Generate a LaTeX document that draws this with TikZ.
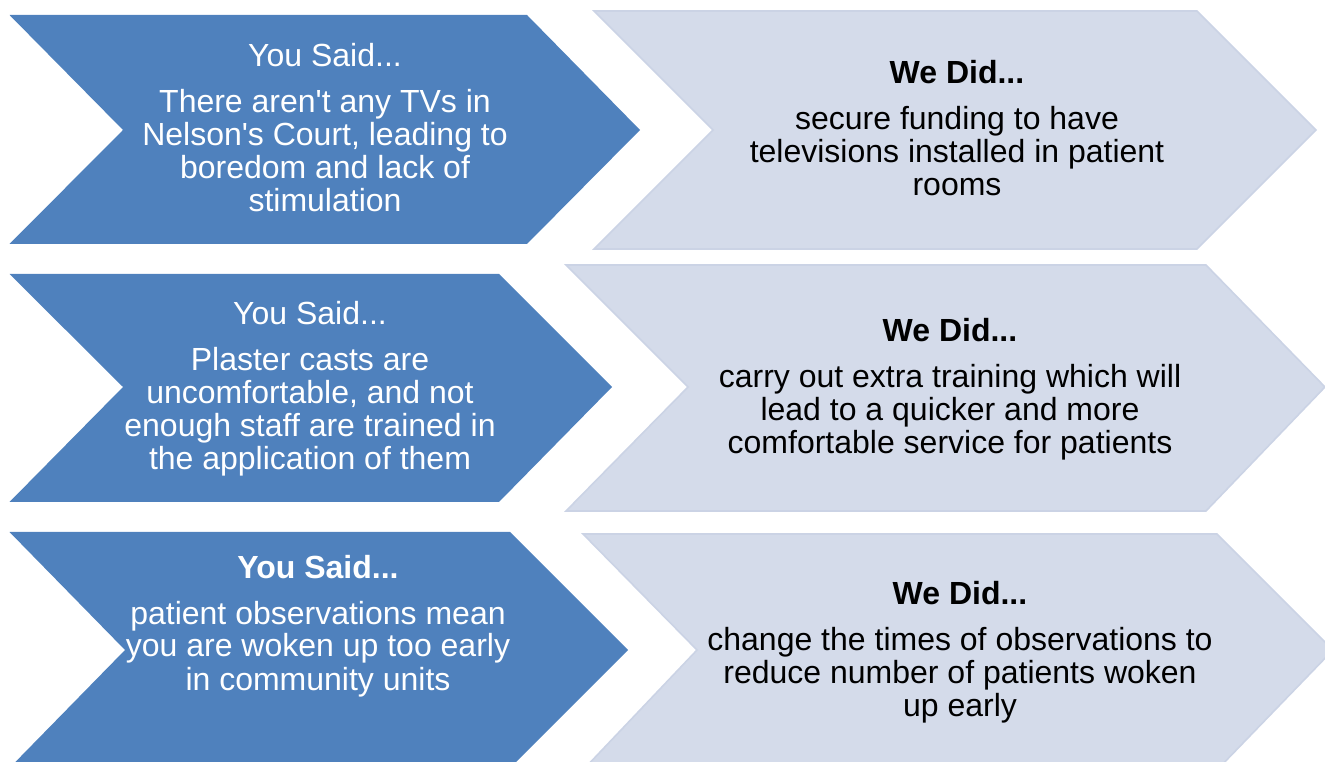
\documentclass[tikz,border=0pt]{standalone}
\usepackage{fontspec}
\setmainfont{Liberation Sans}[Ligatures=TeXOff]
\definecolor{saidblue}{HTML}{4F81BD}
\definecolor{didfill}{HTML}{D4DBEA}
\definecolor{didedge}{HTML}{CBD3E5}
\begin{document}
\begin{tikzpicture}[x=0.75pt,y=-0.75pt,
  saidshape/.style={fill=saidblue},
  didshape/.style={fill=didfill, draw=didedge, line width=1.2pt, line join=miter},
  txt/.style={align=center, inner sep=0pt, anchor=base,
    font=\fontsize{24}{24.75}\selectfont},
  saidtxt/.style={txt, text=white},
  didtxt/.style={txt, text=black},
  hdbold/.style={font=\fontsize{24}{24.75}\selectfont\bfseries}]
\useasboundingbox (0,0) rectangle (1325,762);
\clip (0,0) rectangle (1325,762);

% ---- row 1 ----
\path[saidshape] (9.5,15) -- (527,15) -- (640,130) -- (527,244) -- (9.5,244) -- (123,130) -- cycle;
\path[didshape] (594,11) -- (1197,11) -- (1316,130) -- (1197,249) -- (594,249) -- (713,130) -- cycle;
% multi-line texts are placed by the baseline of their last line
\node[saidtxt] (said1h) at (325,67) {You Said...};
\node[saidtxt] (said1b) at (325,212) {There aren't any TVs in\\Nelson's Court, leading to\\boredom and lack of\\stimulation};
\node[didtxt, hdbold] (did1h) at (957,84) {We Did...};
\node[didtxt] (did1b) at (957,196) {secure funding to have\\televisions installed in patient\\rooms};

% ---- row 2 ----
\path[saidshape] (9.5,274) -- (499,274) -- (612,387) -- (499,502) -- (9.5,502) -- (123,387) -- cycle;
\path[didshape] (566,265) -- (1206,265) -- (1325,387) -- (1206,511) -- (566,511) -- (688,387) -- cycle;
\node[saidtxt] (said2h) at (310,325) {You Said...};
\node[saidtxt] (said2b) at (310,470) {Plaster casts are\\uncomfortable, and not\\enough staff are trained in\\the application of them};
\node[didtxt, hdbold] (did2h) at (950,342) {We Did...};
\node[didtxt] (did2b) at (950,454) {carry out extra training which will\\lead to a quicker and more\\comfortable service for patients};

% ---- row 3 ----
\path[saidshape] (9.5,532) -- (510,532) -- (628,650) -- (510,768) -- (9.5,768) -- (125,650) -- cycle;
\path[didshape] (583,534) -- (1217,534) -- (1333,650) -- (1217,770) -- (583,770) -- (697,650) -- cycle;
\node[saidtxt, hdbold] (said3h) at (318,579) {You Said...};
\node[saidtxt] (said3b) at (318,690) {patient observations mean\\you are woken up too early\\in community units};
\node[didtxt, hdbold] (did3h) at (960,605) {We Did...};
\node[didtxt] (did3b) at (960,716) {change the times of observations to\\reduce number of patients woken\\up early};
\end{tikzpicture}
\end{document}
